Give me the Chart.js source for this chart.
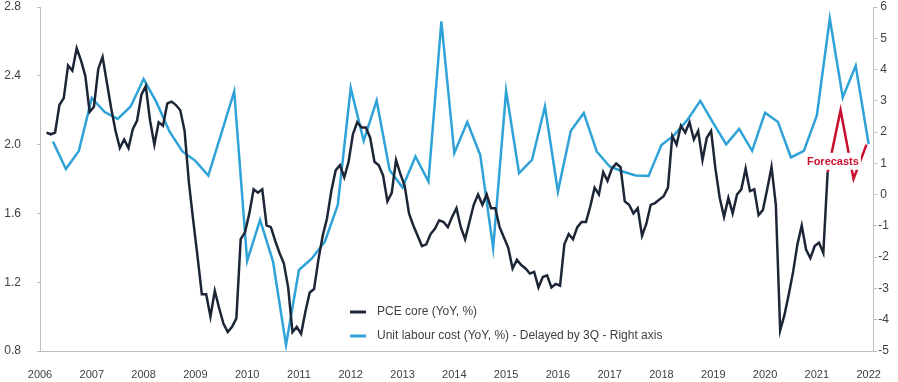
<!DOCTYPE html>
<html>
<head>
<meta charset="utf-8">
<script src="https://cdn.jsdelivr.net/npm/chart.js@4/dist/chart.umd.min.js"></script>
<style>
  html, body { margin: 0; padding: 0; background: #fff; }
  #wrap { width: 898px; height: 382px; }
</style>
</head>
<body>
<div id="wrap"><canvas id="chart" width="898" height="382"></canvas></div>
<script>
// PCE core (YoY, %) - monthly, Feb 2006 .. Mar 2021, left axis
const pceFirstMonth = [2006, 2];
const pceCore = [
  2.07, 2.06, 2.07, 2.23, 2.27, 2.46, 2.43, 2.56, 2.49, 2.40, 2.19,
  2.22, 2.44, 2.51, 2.36, 2.21, 2.08, 1.98, 2.03, 1.98, 2.09, 2.14, 2.29,
  2.34, 2.14, 2.00, 2.13, 2.11, 2.24, 2.25, 2.23, 2.20, 2.08, 1.78, 1.56,
  1.35, 1.13, 1.13, 1.00, 1.15, 1.05, 0.96, 0.91, 0.94, 0.99, 1.45, 1.49,
  1.60, 1.74, 1.72, 1.74, 1.53, 1.52, 1.44, 1.37, 1.31, 1.17, 0.91, 0.94,
  0.90, 1.03, 1.14, 1.16, 1.33, 1.47, 1.57, 1.73, 1.85, 1.88, 1.81, 1.90,
  2.06, 2.13, 2.10, 2.10, 2.04, 1.90, 1.88, 1.82, 1.67, 1.72, 1.91, 1.83,
  1.76, 1.60, 1.53, 1.47, 1.41, 1.42, 1.48, 1.51, 1.56, 1.55, 1.52, 1.58,
  1.63, 1.52, 1.45, 1.55, 1.65, 1.71, 1.65, 1.71, 1.63, 1.63, 1.52, 1.46,
  1.40, 1.28, 1.33, 1.30, 1.28, 1.25, 1.26, 1.17, 1.23, 1.24, 1.17, 1.19,
  1.18, 1.42, 1.48, 1.45, 1.52, 1.55, 1.55, 1.64, 1.75, 1.71, 1.84, 1.79,
  1.86, 1.89, 1.87, 1.67, 1.65, 1.60, 1.63, 1.47, 1.54, 1.65, 1.66, 1.68,
  1.70, 1.75, 2.05, 2.00, 2.11, 2.07, 2.13, 2.03, 2.08, 1.91, 2.04, 2.08,
  1.86, 1.69, 1.58, 1.69, 1.60, 1.71, 1.74, 1.86, 1.73, 1.74, 1.59, 1.62,
  1.74, 1.87, 1.65, 0.92, 1.01, 1.13, 1.26, 1.42, 1.53, 1.39, 1.34, 1.41,
  1.43, 1.37, 1.84
];

// Unit labour cost (YoY, %) delayed by 3Q - quarterly from Q2 2006, right axis
const ulcFirstQuarter = [2006, 2];
const ulc = [
  1.70, 0.82, 1.40, 3.09, 2.64, 2.42, 2.82, 3.70, 2.95, 2.02, 1.38, 1.08,
  0.61, 1.95, 3.30, -2.12, -0.81, -2.14, -4.81, -2.41, -2.04, -1.50, -0.33, 3.41,
  1.72, 3.01, 0.79, 0.23, 1.22, 0.42, 5.54, 1.33, 2.32, 1.27, -1.71, 3.32,
  0.69, 1.11, 2.82, 0.10, 2.04, 2.61, 1.38, 0.90, 0.74, 0.61, 0.60, 1.59,
  1.91, 2.39, 3.00, 2.29, 1.61, 2.10, 1.40, 2.62, 2.32, 1.19, 1.40, 2.53,
  5.63, 3.11, 4.12, 1.61
];

// PCE core forecasts (left axis)
const forecastMonths = [[2021, 3], [2021, 6], [2021, 9], [2021, 12]];
const forecast = [1.84, 2.20, 1.80, 2.00];
const forecastLabel = 'Forecasts';
const forecastLabelAt = [2021.31, 1.90];

const seriesNames = ['PCE core (YoY, %)', 'Unit labour cost (YoY, %) - Delayed by 3Q - Right axis'];
const yearRange = [2006, 2022];
const leftRange = [0.8, 2.8, 0.4];
const rightRange = [-5, 6, 1];

const colBlack = '#1d2636';
const colBlue = '#2fa3d8';
const colRed = '#c8102e';
const txt = '#404040';
const axisCol = '#bfbfbf';
const fontFam = '"Liberation Sans", Arial, sans-serif';

function monthPos(y, m) { return y + (m - 0.5) / 12; }

const pcePts = pceCore.map((v, i) => {
  const m = pceFirstMonth[1] - 1 + i;
  return { x: monthPos(pceFirstMonth[0] + Math.floor(m / 12), (m % 12) + 1), y: v };
});
const ulcPts = ulc.map((v, k) => ({
  x: ulcFirstQuarter[0] + (ulcFirstQuarter[1] - 1) / 4 + k / 4, y: v
}));
const fcPts = forecast.map((v, i) => ({ x: monthPos(forecastMonths[i][0], forecastMonths[i][1]), y: v }));

const overlay = {
  id: 'overlay',
  afterDatasetsDraw(chart) {
    const ctx = chart.ctx;
    const xs = chart.scales.x, yl = chart.scales.yL;
    ctx.save();
    // forecasts label
    ctx.font = 'bold 11px ' + fontFam;
    const px = xs.getPixelForValue(forecastLabelAt[0]);
    const py = yl.getPixelForValue(forecastLabelAt[1]);
    const w = ctx.measureText(forecastLabel).width;
    ctx.fillStyle = '#fff';
    ctx.fillRect(px - w / 2 - 2, py - 9, w + 4, 17);
    ctx.fillStyle = colRed;
    ctx.textAlign = 'center';
    ctx.textBaseline = 'middle';
    ctx.fillText(forecastLabel, px, py);
    // legend inside the plot
    ctx.font = '12px ' + fontFam;
    ctx.textAlign = 'left';
    const lx = 350, ly = [312, 336];
    chart.data.datasets.slice(0, 2).forEach((ds, i) => {
      ctx.strokeStyle = ds.borderColor;
      ctx.lineWidth = 3;
      ctx.beginPath();
      ctx.moveTo(lx, ly[i]);
      ctx.lineTo(lx + 16, ly[i]);
      ctx.stroke();
      ctx.fillStyle = txt;
      ctx.fillText(ds.label, lx + 27, ly[i]);
    });
    ctx.restore();
  }
};

function fixY(width) {
  return s => { s.width = width; s.paddingTop = 7; s.paddingBottom = 7; };
}

new Chart(document.getElementById('chart'), {
  type: 'line',
  data: {
    datasets: [
      { label: seriesNames[0], data: pcePts, yAxisID: 'yL', borderColor: colBlack, borderWidth: 2.5 },
      { label: seriesNames[1], data: ulcPts, yAxisID: 'yR', borderColor: colBlue, borderWidth: 2.5 },
      { label: forecastLabel, data: fcPts, yAxisID: 'yL', borderColor: colRed, borderWidth: 2.5 }
    ]
  },
  options: {
    responsive: false,
    animation: false,
    layout: { padding: 0 },
    elements: { point: { radius: 0 }, line: { tension: 0 } },
    plugins: { legend: { display: false }, tooltip: { enabled: false } },
    scales: {
      x: {
        type: 'linear',
        min: yearRange[0],
        max: yearRange[1] + 0.09,
        grid: { display: false, drawTicks: false },
        border: { display: true, color: axisCol, width: 1 },
        ticks: {
          stepSize: 1, includeBounds: false, padding: 17, color: txt,
          font: { family: fontFam, size: 11 },
          callback: v => String(v)
        },
        afterFit: s => { s.height = 31; }
      },
      yL: {
        position: 'left',
        min: leftRange[0], max: leftRange[1],
        grid: { drawOnChartArea: false, drawTicks: true, tickLength: 3, color: axisCol },
        border: { display: true, color: axisCol, width: 1 },
        ticks: {
          stepSize: leftRange[2], padding: 16, color: txt,
          font: { family: fontFam, size: 12 },
          callback: v => v.toFixed(1)
        },
        afterFit: fixY(40)
      },
      yR: {
        position: 'right',
        min: rightRange[0], max: rightRange[1],
        grid: { drawOnChartArea: false, drawTicks: true, tickLength: 4, color: axisCol },
        border: { display: true, color: axisCol, width: 1 },
        ticks: {
          stepSize: rightRange[2], padding: 1, color: txt, crossAlign: 'center',
          font: { family: fontFam, size: 12 },
          callback: v => String(v)
        },
        afterFit: fixY(23)
      }
    }
  },
  plugins: [overlay]
});
</script>
</body>
</html>
